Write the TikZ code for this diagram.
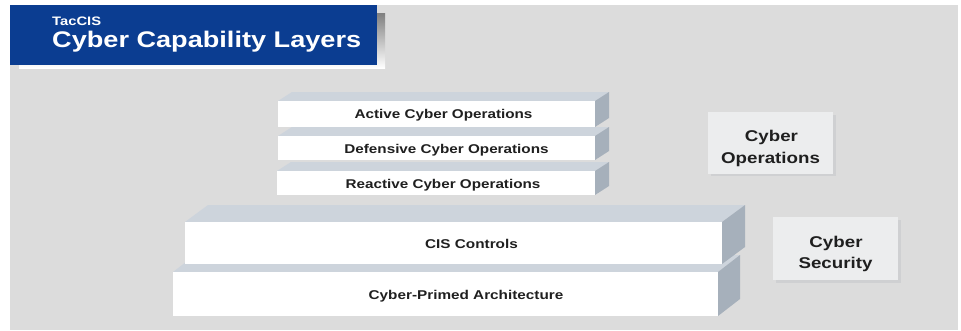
\documentclass[tikz,border=0pt]{standalone}
\usepackage{fontspec}
\setmainfont{Liberation Sans}[FakeStretch=1.2]
\definecolor{bg}{HTML}{DCDCDC}
\definecolor{navy}{HTML}{0B3D91}
\definecolor{shade}{HTML}{A8A8A8}
\definecolor{topf}{HTML}{CDD4DC}
\definecolor{sidef}{HTML}{A6B0BB}
\definecolor{lab}{HTML}{ECEDEE}
\definecolor{labsh}{HTML}{CFD0D2}
\newcommand\myslab[6]{%
  \fill[topf] (#1,#2) -- (#1+#5,#2-#6) -- (#3+#5,#2-#6) -- (#3,#2) -- cycle;
  \fill[sidef] (#3,#2) -- (#3+#5,#2-#6) -- (#3+#5,#4-#6) -- (#3,#4) -- cycle;
  \fill[white] (#1,#2) rectangle (#3,#4);
}
\tikzset{
  slabtxt/.style={anchor=base, inner sep=0pt, font=\bfseries\fontsize{#1}{#1}\selectfont, text=black!88},
  sidebox/.style={fill=lab, minimum width=125pt, minimum height=62pt, inner sep=0pt},
  sidetxt/.style={anchor=base, inner sep=0pt, font=\bfseries\fontsize{15.6}{18}\selectfont, text=black!88},
}
\begin{document}
\begin{tikzpicture}[x=1pt,y=-1pt]
\useasboundingbox (0,0) rectangle (961,330);
\fill[white] (0,0) rectangle (961,330);
\fill[bg] (10,5) rectangle (958,330);
% title
\fill[shade] (19,13) rectangle (385,68);
\fill[navy] (10,5) rectangle (377,65);
\node[anchor=base west, inner sep=0pt, text=white, font=\bfseries\fontsize{12.3}{12}\selectfont] (tac) at (52,25) {TacCIS};
\node[anchor=base west, inner sep=0pt, text=white, font=\bfseries\fontsize{22.6}{24}\selectfont] (title) at (52,47) {Cyber Capability Layers};
% bottom slabs
\myslab{173}{272}{718}{316}{22}{17}
\myslab{185}{222}{722}{264}{23}{17}
% top slabs
\myslab{277}{171}{595}{195}{14}{9}
\myslab{278}{136}{595}{160}{14}{9}
\myslab{278}{101}{595}{127}{14}{9}
% texts
\node[slabtxt=12.7] (aco) at (443.5,118.5) {Active Cyber Operations};
\node[slabtxt=12.7] (dco) at (446.5,153.5) {Defensive Cyber Operations};
\node[slabtxt=12.7] (rco) at (443,188) {Reactive Cyber Operations};
\node[slabtxt=12.75] (cis) at (471.5,248.5) {CIS Controls};
\node[slabtxt=12.75] (cpa) at (466,299) {Cyber-Primed Architecture};
% side labels
\fill[labsh] (711,115) rectangle (836,176);
\node[sidebox] (cyo) at (770.5,142.5) {};
\node[sidetxt] (cyo1) at (771.5,141.5) {Cyber};
\node[sidetxt] (cyo2) at (770.5,163.5) {Operations};
\fill[labsh] (776,220) rectangle (901,283);
\node[sidebox, minimum height=63pt] (cys) at (835.5,248.5) {};
\node[sidetxt] (cys1) at (836,247) {Cyber};
\node[sidetxt] (cys2) at (835.5,268.5) {Security};
\end{tikzpicture}
\end{document}
